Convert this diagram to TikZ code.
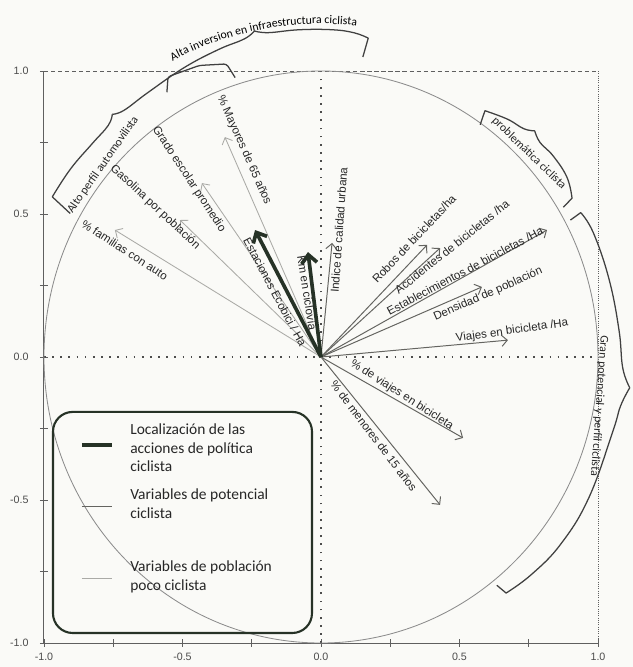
\documentclass[tikz,border=0pt]{standalone}
\usepackage{fontspec}
\setmainfont{Liberation Sans}
\newfontfamily\notefont{Carlito}
\usetikzlibrary{arrows.meta,decorations.text}

\definecolor{actcol}{RGB}{38,50,38}
\definecolor{potcol}{RGB}{100,100,96}
\definecolor{pococol}{RGB}{170,170,166}
\definecolor{framecol}{RGB}{95,95,95}
\definecolor{paper}{RGB}{250,250,247}

\tikzset{
  actvar/.style={actcol,line width=2.6pt,-{Straight Barb[length=6pt,width=11pt]}},
  potvar/.style={potcol,line width=0.7pt,-{Straight Barb[length=4pt,width=8pt]}},
  pocovar/.style={pococol,line width=0.6pt,-{Straight Barb[length=4pt,width=8pt]}},
  varlabel/.style={font=\fontsize{8.2}{9}\selectfont,text=black!85,inner sep=1pt},
  bracelabel/.style={font=\notefont\fontsize{8.4}{10}\selectfont,text=black!85,inner sep=1pt},
  legendtext/.style={font=\notefont\fontsize{11}{13.3}\selectfont,text=black!85,align=left,anchor=west,inner sep=0pt},
  bracket/.style={black!75,line width=0.9pt,line join=round},
  zeroline/.style={black!70,line width=1pt,dash pattern=on 1.2pt off 4.6pt},
  ticklabel/.style={font=\fontsize{7.6}{9}\selectfont,text=black!70,inner sep=1pt},
}

\begin{document}
\begin{tikzpicture}[x={(6.925cm,0)},y={(0,7.15cm)}]
 \path[use as bounding box,fill=paper] (-1.1588,-1.0839) rectangle (1.1264,1.2483);
    % frame, ticks and zero lines
    \draw[framecol,line width=0.7pt] (-1,1)--(-1,-1)--(1,-1);
    \draw[framecol,line width=0.6pt,densely dashed] (-1,1)--(1,1);
    \draw[framecol,line width=0.6pt,densely dotted] (1,1)--(1,-1);
    \foreach \t in {-1,-0.75,...,1}{
      \draw[framecol,line width=0.6pt] (-1.015,\t)--(-0.985,\t);
      \draw[framecol,line width=0.6pt] (\t,-1.013)--(\t,-0.987);
    }
    \foreach [count=\i] \t/\s in {-1/-1.0,-0.5/-0.5,0/0.0,0.5/0.5,1/1.0}{
      \node[ticklabel,anchor=east] (ytick\i) at (-1.05,\t) {\s};
      \node[ticklabel,anchor=north] (xtick\i) at (\t,-1.03) {\s};
    }
    \draw[zeroline] (-1,0)--(1,0);
    \draw[zeroline] (0,-1)--(0,1);
    \draw[black!45,line width=0.6pt] (0,0) circle (1);
    \coordinate (O) at (0,0);
    % variables of a population that hardly cycles
    \foreach [count=\i] \px/\py/\lx/\ly/\rot/\txt in {
      -0.347/0.769/-0.278/0.724/-66/{\% Mayores de 65 años},
      -0.430/0.608/-0.477/0.622/-56.6/{Grado escolar promedio},
      -0.509/0.479/-0.599/0.524/-43/{Gasolina por población},
      -0.744/0.444/-0.708/0.374/-33/{\% familias con auto}}{
      \coordinate (poco\i) at (\px,\py);
      \draw[pocovar] (O)--(poco\i);
      \node[varlabel,rotate=\rot] (pocolabel\i) at (\lx,\ly) {\txt};
    }
    % variables of cycling potential
    \foreach [count=\i] \px/\py/\lx/\ly/\rot/\txt in {
      0.040/0.399/0.065/0.444/86/{Indice de calidad urbana},
      0.383/0.392/0.336/0.413/46.8/{Robos de bicicletas/ha},
      0.430/0.381/0.473/0.385/38.6/{Accidentes de bicicletas /ha},
      0.816/0.444/0.520/0.301/28/{Establecimientos de bicicletas /Ha},
      0.581/0.245/0.603/0.220/23.7/{Densidad de población},
      0.675/0.059/0.690/0.091/8/{Viajes en bicicleta /Ha},
      0.513/-0.283/0.292/-0.133/-32.8/{\% de viajes en bicicleta},
      0.430/-0.517/0.191/-0.276/-52.8/{\% de menores de 15 años}}{
      \coordinate (pot\i) at (\px,\py);
      \draw[potvar] (O)--(pot\i);
      \node[varlabel,rotate=\rot] (potlabel\i) at (\lx,\ly) {\txt};
    }
    % policy actions
    \foreach [count=\i] \px/\py/\lx/\ly/\rot/\txt in {
      -0.238/0.444/-0.166/0.227/-62/{Estaciones Ecobici / Ha},
      -0.047/0.367/-0.050/0.224/-81/{Km en ciclovía}}{
      \coordinate (act\i) at (\px,\py);
      \draw[actvar] (O)--(act\i);
      \node[varlabel,rotate=\rot] (actlabel\i) at (\lx,\ly) {\txt};
    }
    % braces round the groups
    \draw[bracket] (151:1.035)--(150:1.12)--plot[smooth,tension=0.7] coordinates{(150:1.12)(144:1.118)(138:1.113)(133.5:1.116)(131.6:1.135)};
    \draw[bracket] plot[smooth,tension=0.7] coordinates{(131.6:1.135)(129.5:1.118)(124:1.116)(116:1.126)(109:1.137)(104:1.146)(101.9:1.165)};
    \draw[bracket] plot[smooth,tension=0.7] coordinates{(101.9:1.165)(99.5:1.15)(94:1.147)(88:1.145)(84:1.14)(81.3:1.128)}--(81.8:1.06);
    \draw[bracket,rounded corners=2pt] (121:1.08)--(119.4:1.125)--(113.3:1.11)--(108.4:1.08)--(107.6:1.025);
    \draw[bracket] (54.7:0.995)--(55.5:1.045)--plot[smooth,tension=0.7] coordinates{(55.5:1.045)(51:1.07)(47.5:1.083)(45.7:1.105)};
    \draw[bracket] plot[smooth,tension=0.7] coordinates{(45.7:1.105)(43.5:1.09)(40:1.094)(35.3:1.088)(31.5:1.063)}--(30.9:1.02);
    \draw[bracket] (28:1.02)--(28.3:1.065)--plot[smooth,tension=0.7] coordinates{(28.3:1.065)(23.8:1.075)(14.6:1.075)(5:1.08)(-2:1.09)(-5.5:1.12)};
    \draw[bracket] plot[smooth,tension=0.7] coordinates{(-5.5:1.12)(-9:1.095)(-14:1.085)(-27:1.085)(-37:1.085)(-45:1.075)(-51:1.062)}--(-51.5:1.02);
    \node[bracelabel,rotate=55] (autolabel) at (-0.787,0.672) {Alto perfil automovilista};
    \node[bracelabel,rotate=-44] (problabel) at (0.751,0.712) {problemática ciclista};
    \node[bracelabel,rotate=-94] (granlabel) at (1.004,-0.171) {Gran potencial y perfil ciclista};
    \path[decorate,decoration={text along path,text align=center,
      text={|\notefont\fontsize{8.4}{10}\selectfont|Alta inversion en infraestructura ciclista}}]
      (121:1.165) arc[start angle=121,end angle=80,radius=1.165];
    % legend
    \draw[actcol,line width=1.5pt,rounded corners=14pt] (-0.9675,-0.192) rectangle (-0.0325,-0.965);
    \draw[actcol,line width=2.6pt] (-0.863,-0.308)--(-0.755,-0.308);
    \draw[potcol,line width=0.7pt] (-0.863,-0.524)--(-0.755,-0.524);
    \draw[pococol,line width=0.6pt] (-0.863,-0.773)--(-0.755,-0.773);
    \node[legendtext] (legact) at (-0.6895,-0.318) {Localización de las\\acciones de política\\ciclista};
    \node[legendtext] (legpot) at (-0.6895,-0.514) {Variables de potencial\\ciclista};
    \node[legendtext] (legpoco) at (-0.6895,-0.769) {Variables de población\\poco ciclista};
\end{tikzpicture}
\end{document}
